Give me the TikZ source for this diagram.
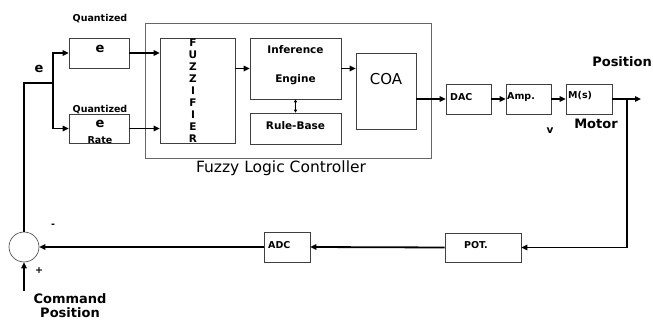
\documentclass[tikz,border=0pt]{standalone}
\usepackage{fontspec}
\setmainfont{DejaVu Sans}
\usetikzlibrary{arrows.meta}
\begin{document}
\begin{tikzpicture}[x=1pt,y=-1pt,
  blk/.style={draw=black!75, line width=0.6pt, inner sep=0pt, fill=white},
  sig/.style={line width=1.8pt, black},
  arr/.style={sig, -{Triangle[length=6pt,width=5.5pt]}},
  lbl/.style={font=\bfseries\fontsize{9.5}{10}\selectfont, inner sep=0pt},
  mid/.style={font=\bfseries\fontsize{10.5}{11}\selectfont, inner sep=0pt},
  big/.style={font=\bfseries\fontsize{13}{14}\selectfont, inner sep=0pt},
]
\useasboundingbox (0,0) rectangle (653,320);
% Fuzzy logic controller frame
\node[blk, draw=black!60, minimum width=286pt, minimum height=135pt] (flc) at (288,90.5) {};
\node[font=\fontsize{15.5}{16}\selectfont, inner sep=0pt] (flcl) at (281,168) {Fuzzy Logic Controller};
% blocks
\node[blk, minimum width=60pt, minimum height=30pt] (qe) at (99,53) {};
\node[blk, minimum width=60pt, minimum height=29pt] (qr) at (99,128.5) {};
\node[blk, minimum width=75pt, minimum height=105pt] (fuz) at (197.5,90.5) {};
\node[blk, minimum width=91pt, minimum height=61pt] (inf) at (295.5,68.5) {};
\node[blk, minimum width=91pt, minimum height=31pt] (rb) at (295.5,128.5) {};
\node[blk, minimum width=60pt, minimum height=76pt] (coa) at (386,91) {};
\node[blk, minimum width=45pt, minimum height=30pt] (dac) at (468.5,99) {};
\node[blk, minimum width=45pt, minimum height=30pt] (amp) at (528.5,99) {};
\node[blk, minimum width=46pt, minimum height=30pt] (ms) at (589,99) {};
\node[blk, minimum width=76pt, minimum height=29pt] (pot) at (483,247.5) {};
\node[blk, minimum width=46pt, minimum height=30pt] (adc) at (287,247) {};
\node[blk, circle, minimum size=30pt] (sum) at (24,247) {};
% texts
\node[lbl] (t1) at (100,19) {Quantized};
\node[big] (t2) at (100,49) {e};
\node[lbl] (t3) at (100,110) {Quantized};
\node[big] (t4) at (100,124) {e};
\node[lbl] (t5) at (100,140) {Rate};
\node[big] (te) at (39,69) {e};
\foreach \c [count=\i from 0] in {F,U,Z,Z,I,F,I,E,R}
  \node[mid] (fz\i) at (193,43+12*\i) {\c};
\node[mid] (t6) at (295.5,50) {Inference};
\node[mid] (t7) at (295.5,80) {Engine};
\node[mid] (t8) at (295.5,126) {Rule-Base};
\node[font=\fontsize{15}{16}\selectfont, inner sep=0pt] (t9) at (386,79) {COA};
\node[lbl, anchor=west] (t10) at (450,97) {DAC};
\node[lbl, anchor=west] (t11) at (507,97) {Amp.};
\node[lbl, anchor=west] (t12) at (568,96) {M(s)};
\node[lbl] (t13) at (476,245) {POT.};
\node[lbl, anchor=west] (t14) at (268,245) {ADC};
\node[big, anchor=east] (t15) at (652,62) {Position};
\node[big] (t16) at (596,124) {Motor};
\node[mid] (t17) at (550,131) {v};
\node[big] (t18) at (70,299) {Command};
\node[big] (t19) at (70,313) {Position};
\node[lbl] (t20) at (53,226) {-};
\node[lbl] (t21) at (39,271) {+};
% connectors
\coordinate (br) at (53,83);
\coordinate (out) at (641,99);
\coordinate (tap) at (627,99);
\coordinate (cmd) at (24,291);
\draw[sig] (sum.north) |- (br);
\draw[arr] (br) |- (qe.west);
\draw[arr] (br) |- (qr.west);
\draw[arr] (qe.east) -- (fuz.west |- qe.east);
\draw[arr] (qr.east) -- (fuz.west |- qr.east);
\draw[arr] (fuz.east |- inf.west) -- (inf.west);
\draw[arr] (inf.east) -- (coa.west |- inf.east);
\draw[line width=0.7pt, {Triangle[length=3pt,width=3pt]}-{Triangle[length=3pt,width=3pt]}] (inf.south) -- (rb.north);
\draw[arr] (coa.east |- dac.west) -- (dac.west);
\draw[arr] (dac.east) -- (amp.west);
\draw[arr] (amp.east) -- (ms.west);
\draw[arr] (ms.east) -- (out);
\draw[arr] (tap) |- (pot.east);
\draw[arr] (pot.west) -- (adc.east);
\draw[arr] (adc.west) -- (sum.east);
\draw[arr] (cmd) -- (sum.south);
\end{tikzpicture}
\end{document}
